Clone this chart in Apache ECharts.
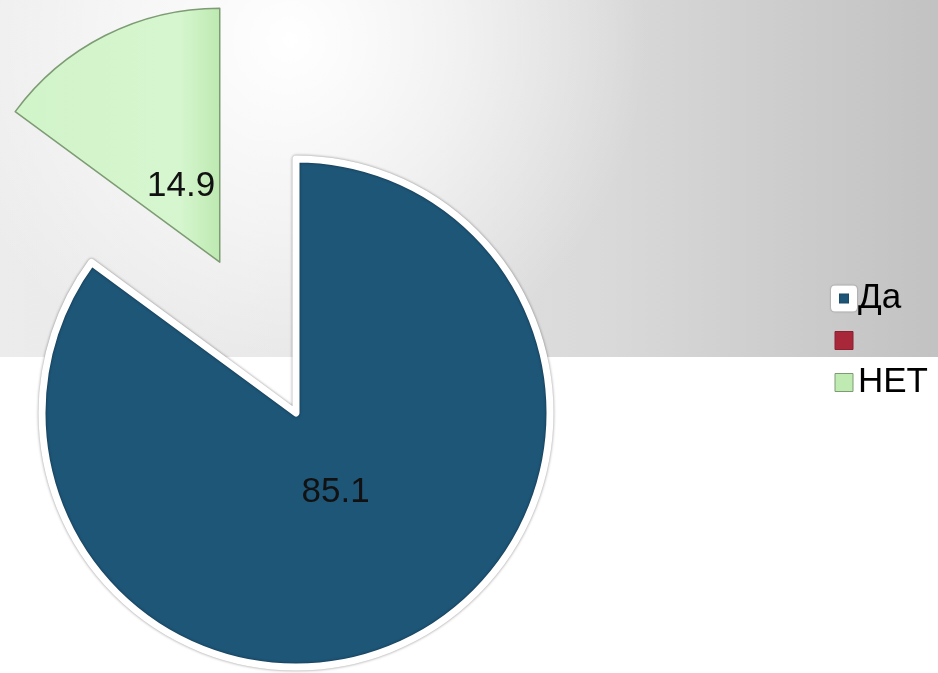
<!DOCTYPE html>
<html>
<head>
<meta charset="utf-8">
<script src="https://cdn.jsdelivr.net/npm/echarts@6/dist/echarts.min.js"></script>
<style>
	html, body { margin: 0; padding: 0; background: #fff; }
	#main { width: 938px; height: 673px; }
</style>
</head>
<body>
<div id="main"></div>
<script>
// данные диаграммы
var categories = ['Да', ' ', 'НЕТ'];
var values = [85.1, 0, 14.9];
var colors = ['#1e5678', '#a8283a', '#cdf2c4'];

// сдвиг подписей внутрь, ближе к центру
var labelShift = [[-19, -37], [0, 0], [20, 40]];

var myChart = echarts.init(document.getElementById('main'));

var pieData = categories.map(function (name, i) {
	var item = { name: name, value: values[i] };
	if (i === 0) {
		item.itemStyle = {
			color: colors[0],
			borderColor: '#fff',
			borderWidth: 7,
			shadowBlur: 3,
			shadowColor: 'rgba(0,0,0,0.45)'
		};
	} else if (i === 1) {
		item.itemStyle = { color: colors[1], borderWidth: 0 };
		item.label = { show: false };
	} else {
		item.selected = true;
		item.itemStyle = {
			color: new echarts.graphic.LinearGradient(0, 0, 1, 0, [
				{ offset: 0, color: '#d2f4c9' },
				{ offset: 0.8, color: '#d6f6cf' },
				{ offset: 1, color: '#bde9b0' }
			]),
			borderColor: '#7d9c74',
			borderWidth: 1.5
		};
	}
	return item;
});

var option = {
	animation: false,
	graphic: [{
		type: 'rect',
		z: -10,
		shape: { x: 0, y: 0, width: 938, height: 357 },
		style: {
			fill: new echarts.graphic.LinearGradient(0, 0, 1, 0, [
				{ offset: 0, color: '#ececec' },
				{ offset: 0.3, color: '#e6e6e6' },
				{ offset: 0.65, color: '#d9d9d9' },
				{ offset: 1, color: '#c2c2c2' }
			])
		},
		silent: true
	}, {
		// светлое пятно сверху
		type: 'rect',
		z: -9,
		shape: { x: 0, y: 0, width: 938, height: 357 },
		style: {
			fill: new echarts.graphic.RadialGradient(290 / 938, 40 / 357, 1, [
				{ offset: 0, color: 'rgba(255,255,255,1)' },
				{ offset: 0.5, color: 'rgba(255,255,255,0.55)' },
				{ offset: 1, color: 'rgba(255,255,255,0)' }
			])
		},
		silent: true
	}],
	legend: {
		orient: 'vertical',
		left: 826,
		top: 276,
		itemWidth: 18,
		itemHeight: 18,
		itemGap: 7,
		icon: 'rect',
		selectedMode: false,
		textStyle: {
			fontFamily: 'Liberation Sans',
			fontSize: 35,
			color: '#000'
		},
		data: [
			{ name: categories[0], itemStyle: { color: colors[0], borderColor: '#fff', borderWidth: 8, shadowBlur: 2, shadowColor: 'rgba(0,0,0,0.4)' } },
			{ name: categories[1], itemStyle: { color: colors[1], borderColor: '#8c1f30', borderWidth: 1 } },
			{ name: categories[2], itemStyle: { color: '#bfeab2', borderColor: '#7d9c74', borderWidth: 1 } }
		]
	},
	series: [{
		type: 'pie',
		center: [296, 413],
		radius: 254,
		startAngle: 90,
		clockwise: true,
		selectedMode: 'multiple',
		selectedOffset: 169,
		silent: true,
		label: {
			show: true,
			position: 'inside',
			formatter: '{c}',
			fontFamily: 'Liberation Sans',
			fontSize: 35,
			color: '#111'
		},
		labelLine: { show: false },
		labelLayout: function (params) {
			var s = labelShift[params.dataIndex];
			return { dx: s[0], dy: s[1] };
		},
		data: pieData
	}]
};
myChart.setOption(option);
</script>
</body>
</html>
